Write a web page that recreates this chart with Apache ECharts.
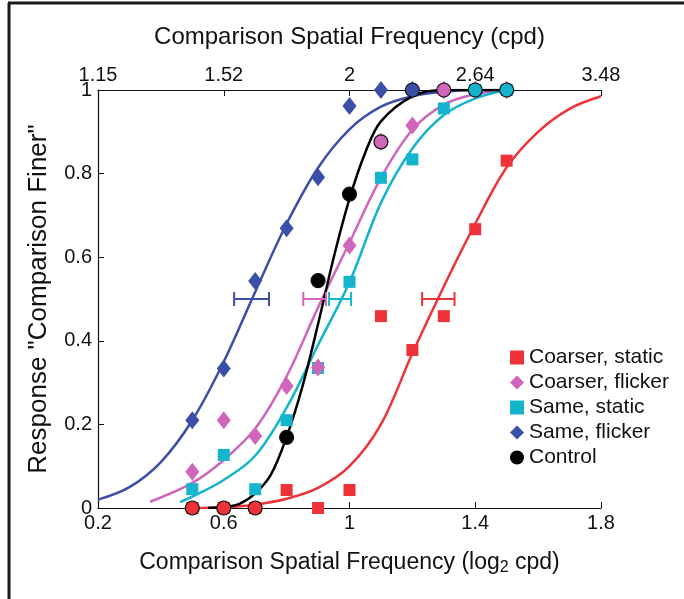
<!DOCTYPE html>
<html>
<head>
<meta charset="utf-8">
<script src="https://cdn.jsdelivr.net/npm/echarts@6/dist/echarts.min.js"></script>
<style>
  html, body { margin: 0; padding: 0; background: #fff; }
  #main { width: 684px; height: 599px; }
</style>
</head>
<body>
<div id="main"></div>
<script>
// measured stimulus levels (log2 cpd)
var levels = [0.5, 0.6, 0.7, 0.8, 0.9, 1.0, 1.1, 1.2, 1.3, 1.4, 1.5];
var topTickLabels = ['1.15', '1.52', '2', '2.64', '3.48'];

// proportion "comparison finer"
var coarserStatic = [0, 0, 0, 0.043, 0, 0.043, 0.459, 0.378, 0.459, 0.667, 0.831];
var coarserFlicker = [0.087, 0.21, 0.172, 0.292, 0.336, 0.628, 0.876, 0.915, 1, 1, 1];
var sameStatic = [0.045, 0.127, 0.045, 0.21, 0.335, 0.541, 0.79, 0.834, 0.956, 1, 1];
var sameFlicker = [0.21, 0.334, 0.543, 0.669, 0.791, 0.962, 1, 1, 1, 1, 1];
var control = [0, 0, 0, 0.169, 0.544, 0.751, 0.876, 1, 1, 1, 1];

// fitted curves, sampled from the figure
var fitCoarserStatic = [[0.5, 0], [0.6, 0.002], [0.7, 0.008], [0.8, 0.022], [0.9, 0.048], [1.0, 0.1],
  [1.1, 0.2], [1.2, 0.37], [1.3, 0.53], [1.4, 0.68], [1.5, 0.815], [1.6, 0.9], [1.7, 0.955], [1.8, 0.985]];
var fitCoarserFlicker = [[0.366, 0.015], [0.5, 0.06], [0.6, 0.115], [0.7, 0.19], [0.8, 0.315], [0.9, 0.48],
  [1.0, 0.635], [1.1, 0.79], [1.2, 0.905], [1.3, 0.965], [1.4, 0.99], [1.5, 1]];
var fitSameStatic = [[0.461, 0.014], [0.5, 0.027], [0.6, 0.067], [0.7, 0.125], [0.8, 0.24], [0.9, 0.39],
  [1.0, 0.54], [1.1, 0.73], [1.2, 0.86], [1.3, 0.94], [1.4, 0.98], [1.5, 1]];
var fitSameFlicker = [[0.2, 0.02], [0.3, 0.05], [0.4, 0.11], [0.5, 0.21], [0.6, 0.35], [0.7, 0.517],
  [0.8, 0.68], [0.9, 0.814], [1.0, 0.906], [1.1, 0.96], [1.2, 0.985], [1.3, 0.996], [1.4, 1], [1.5, 1]];
var fitControl = [[0.55, 0], [0.6, 0.003], [0.65, 0.01], [0.7, 0.035], [0.75, 0.08], [0.8, 0.17],
  [0.85, 0.29], [0.9, 0.44], [0.95, 0.6], [1.0, 0.74], [1.05, 0.85], [1.1, 0.925], [1.2, 0.985], [1.3, 1], [1.5, 1]];

// 50% points with error bars: [low, high]
var thresholdLevel = 0.5;
var thrCoarserStatic = [1.231, 1.334];
var thrCoarserFlicker = [0.853, 0.925];
var thrSameStatic = [0.935, 1.005];
var thrSameFlicker = [0.633, 0.744];

var RED = '#ee3338', PINK = '#d066bc', CYAN = '#14b4cc', BLUE = '#3c4fa8', BLACK = '#000';
var FONT = 'Liberation Sans, Arial, sans-serif';

function pts(ys) {
  return levels.map(function (x, i) { return [x, ys[i]]; });
}

// control circles take the fill of the marker they sit on
var overlapOrder = [[sameStatic, CYAN], [coarserFlicker, PINK], [sameFlicker, BLUE], [coarserStatic, RED]];
function controlFill(i) {
  for (var k = 0; k < overlapOrder.length; k++) {
    if (Math.abs(overlapOrder[k][0][i] - control[i]) < 0.005) return overlapOrder[k][1];
  }
  return BLACK;
}

function fitLine(name, data, color) {
  return {
    name: name, type: 'line', data: data, smooth: 0.35, symbol: 'none',
    lineStyle: { color: color, width: 2.5 }, z: 2, silent: true
  };
}

function errBar(name, range, color) {
  return {
    name: name, type: 'custom', z: 3, silent: true,
    data: [[range[0], range[1], thresholdLevel]],
    renderItem: function (params, api) {
      var a = api.coord([api.value(0), api.value(2)]);
      var b = api.coord([api.value(1), api.value(2)]);
      var h = 7;
      var st = { stroke: color, lineWidth: 2 };
      return {
        type: 'group', children: [
          { type: 'line', shape: { x1: a[0], y1: a[1], x2: b[0], y2: b[1] }, style: st },
          { type: 'line', shape: { x1: a[0], y1: a[1] - h, x2: a[0], y2: a[1] + h }, style: st },
          { type: 'line', shape: { x1: b[0], y1: b[1] - h, x2: b[0], y2: b[1] + h }, style: st }
        ]
      };
    }
  };
}

var chart = echarts.init(document.getElementById('main'));
var axisText = { color: '#111', fontSize: 20, fontFamily: FONT };

var option = {
  animation: false,
  backgroundColor: '#fff',
  grid: { left: 98, right: 83, top: 90, bottom: 91 },
  graphic: [
    { type: 'line', shape: { x1: 9, y1: 3, x2: 9, y2: 599 }, style: { stroke: '#1a1a1a', lineWidth: 3 } },
    { type: 'line', shape: { x1: 8, y1: 3, x2: 684, y2: 3 }, style: { stroke: '#1a1a1a', lineWidth: 3 } }
  ],
  xAxis: [{
    type: 'value', position: 'bottom', min: 0.2, max: 1.8, interval: 0.4,
    name: 'Comparison Spatial Frequency (log{sub|2} cpd)',
    nameLocation: 'middle', nameGap: 42,
    nameTextStyle: {
      color: '#111', fontSize: 23, fontFamily: FONT,
      rich: { sub: { fontSize: 16, padding: [10, 0, 0, 0], fontFamily: FONT, color: '#111' } }
    },
    axisLine: { lineStyle: { color: '#111', width: 1.2 } },
    axisTick: { inside: true, length: 6, lineStyle: { color: '#111' } },
    axisLabel: Object.assign({ margin: 5, formatter: function (v) { return String(+v.toFixed(1)); } }, axisText),
    splitLine: { show: false }
  }, {
    type: 'value', position: 'top', min: 0.2, max: 1.8, interval: 0.4,
    name: 'Comparison Spatial Frequency (cpd)',
    nameLocation: 'middle', nameGap: 41,
    nameTextStyle: { color: '#111', fontSize: 24, fontFamily: FONT },
    axisLine: { lineStyle: { color: '#111', width: 1.2 } },
    axisTick: { inside: true, length: 6, lineStyle: { color: '#111' } },
    axisLabel: Object.assign({ margin: 5, formatter: function (v, i) { return topTickLabels[i]; } }, axisText),
    splitLine: { show: false }
  }],
  yAxis: {
    type: 'value', min: 0, max: 1, interval: 0.2,
    name: 'Response "Comparison Finer"',
    nameLocation: 'middle', nameGap: 46, nameRotate: 90,
    nameTextStyle: { color: '#111', fontSize: 26, fontFamily: FONT },
    axisLine: { show: true, lineStyle: { color: '#111', width: 1.2 } },
    axisTick: { show: true, inside: true, length: 6, lineStyle: { color: '#111' } },
    axisLabel: Object.assign({ margin: 6, formatter: function (v) { return String(+v.toFixed(1)); } }, axisText),
    splitLine: { show: false }
  },
  legend: {
    orient: 'vertical', left: 505, top: 342, itemGap: 4, itemWidth: 14, itemHeight: 14,
    textStyle: { color: '#111', fontSize: 21, lineHeight: 21, fontFamily: FONT },
    data: [
      { name: 'Coarser, static', icon: 'rect' },
      { name: 'Coarser, flicker', icon: 'diamond' },
      { name: 'Same, static', icon: 'rect' },
      { name: 'Same, flicker', icon: 'diamond' },
      { name: 'Control', icon: 'circle', itemStyle: { color: BLACK, borderWidth: 0 } }
    ]
  },
  series: [
    fitLine('fit1', fitCoarserStatic, RED),
    fitLine('fit2', fitCoarserFlicker, PINK),
    fitLine('fit3', fitSameStatic, CYAN),
    fitLine('fit4', fitSameFlicker, BLUE),
    fitLine('fit5', fitControl, BLACK),
    errBar('eb1', thrCoarserStatic, RED),
    errBar('eb2', thrCoarserFlicker, PINK),
    errBar('eb3', thrSameStatic, CYAN),
    errBar('eb4', thrSameFlicker, BLUE),
    { name: 'Coarser, static', type: 'scatter', data: pts(coarserStatic), symbol: 'rect', symbolSize: 12,
      itemStyle: { color: RED, opacity: 1 }, z: 4, clip: false },
    { name: 'Same, flicker', type: 'scatter', data: pts(sameFlicker), symbol: 'diamond', symbolSize: [14, 18],
      itemStyle: { color: BLUE, opacity: 1 }, z: 4, clip: false },
    { name: 'Same, static', type: 'scatter', data: pts(sameStatic), symbol: 'rect', symbolSize: 12,
      itemStyle: { color: CYAN, opacity: 1 }, z: 5, clip: false },
    { name: 'Coarser, flicker', type: 'scatter', data: pts(coarserFlicker), symbol: 'diamond', symbolSize: [14, 18],
      itemStyle: { color: PINK, opacity: 1 }, z: 5, clip: false },
    { name: 'Control', type: 'scatter', data: pts(control), symbol: 'circle', symbolSize: 14,
      itemStyle: {
        color: function (p) { return controlFill(p.dataIndex); },
        borderColor: '#111', borderWidth: 1.2, opacity: 1
      }, z: 6, clip: false }
  ]
};
chart.setOption(option);
</script>
</body>
</html>
